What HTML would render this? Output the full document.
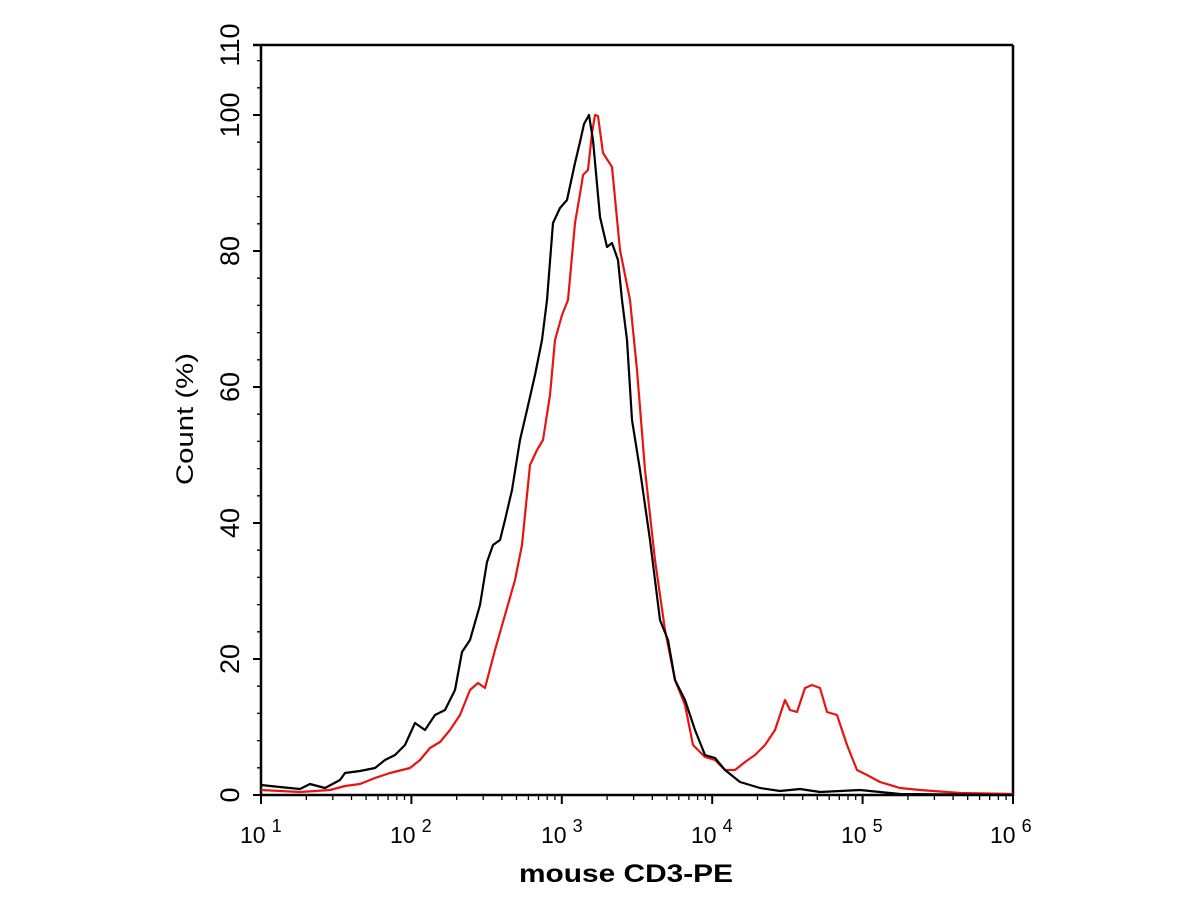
<!DOCTYPE html>
<html><head><meta charset="utf-8"><style>
html,body{margin:0;padding:0;background:#fff;}
svg{display:block;font-family:"Liberation Sans",Arial,sans-serif;}
</style></head><body>
<svg width="1200" height="900" viewBox="0 0 1200 900" xmlns="http://www.w3.org/2000/svg">
<rect width="1200" height="900" fill="#fff"/>
<g stroke="#000" stroke-width="2.5" fill="none">
<line x1="261" y1="45" x2="261" y2="796"/>
<line x1="253" y1="45" x2="1013" y2="45"/>
<line x1="1013" y1="45" x2="1013" y2="796"/>
<line x1="260" y1="795" x2="1014" y2="795"/>
</g>
<g stroke="#000" stroke-width="2">
<line x1="253" y1="795" x2="261" y2="795"/>
<line x1="253" y1="659" x2="261" y2="659"/>
<line x1="253" y1="523" x2="261" y2="523"/>
<line x1="253" y1="387" x2="261" y2="387"/>
<line x1="253" y1="251" x2="261" y2="251"/>
<line x1="253" y1="115" x2="261" y2="115"/>
<line x1="261" y1="795" x2="261" y2="804"/>
<line x1="411.4" y1="795" x2="411.4" y2="804"/>
<line x1="561.8" y1="795" x2="561.8" y2="804"/>
<line x1="712.2" y1="795" x2="712.2" y2="804"/>
<line x1="862.6" y1="795" x2="862.6" y2="804"/>
<line x1="1013" y1="795" x2="1013" y2="804"/>
</g>
<path stroke="#000" stroke-width="1.3" fill="none" d="M257 767.8H261M257 740.6H261M257 713.4H261M257 686.2H261M257 631.8H261M257 604.6H261M257 577.4H261M257 550.2H261M257 495.8H261M257 468.6H261M257 441.4H261M257 414.2H261M257 359.8H261M257 332.6H261M257 305.4H261M257 278.2H261M257 223.8H261M257 196.6H261M257 169.4H261M257 142.2H261M257 87.8H261M257 60.6H261"/>
<defs><path id="dec" stroke="#000" stroke-width="1.3" fill="none" d="M45.3 795V800M71.8 795V800M90.5 795V800M105.1 795V800M117 795V800M127.1 795V800M135.8 795V800M143.5 795V800"/></defs>
<use href="#dec" x="261"/><use href="#dec" x="411.4"/><use href="#dec" x="561.8"/><use href="#dec" x="712.2"/><use href="#dec" x="862.6"/>
<g fill="#000">
<g text-anchor="middle" font-size="27">
<text transform="translate(239,795) rotate(-90)">0</text>
<text transform="translate(239,659) rotate(-90)">20</text>
<text transform="translate(239,523) rotate(-90)">40</text>
<text transform="translate(239,387) rotate(-90)">60</text>
<text transform="translate(239,251) rotate(-90)">80</text>
<text transform="translate(239,115) rotate(-90)">100</text>
<text transform="translate(239,45) rotate(-90)">110</text>
</g>
<text transform="translate(193,419) rotate(-90)" text-anchor="middle" font-size="24" textLength="132" lengthAdjust="spacingAndGlyphs">Count  (%)</text>
<g font-size="23">
<text x="240" y="843">10<tspan font-size="18" dx="6" dy="-11">1</tspan></text>
<text x="390" y="843">10<tspan font-size="18" dx="6" dy="-11">2</tspan></text>
<text x="541" y="843">10<tspan font-size="18" dx="6" dy="-11">3</tspan></text>
<text x="691" y="843">10<tspan font-size="18" dx="6" dy="-11">4</tspan></text>
<text x="841" y="843">10<tspan font-size="18" dx="6" dy="-11">5</tspan></text>
<text x="990" y="843">10<tspan font-size="18" dx="6" dy="-11">6</tspan></text>
</g>
<text x="519" y="882" font-size="25" font-weight="bold" textLength="214" lengthAdjust="spacingAndGlyphs">mouse CD3-PE</text>
</g>
<polyline fill="none" stroke="#e8140f" stroke-width="2.2" stroke-linejoin="round" points="261,790 300,792 330,790 345,786 360,784 375,778 390,773 410,768 420,760 430,748 440,742 450,730 460,715 470,690 478,683 485,688 495,650 505,615 515,580 522,545 530,465 537,450 543,440 550,395 555,340 562,315 568,300 575,223 582,182 583,175 588,170 592,133 595,115 598,116 603,153 612,167 620,250 630,300 637,370 645,470 655,560 665,630 675,680 685,705 693,745 705,757 715,760 725,770 735,770 745,762 755,755 765,745 775,730 785,700 790,710 797,712 805,688 812,685 820,688 827,712 837,715 847,745 857,770 867,775 880,782 900,788 920,790 960,793 1013,794"/>
<polyline fill="none" stroke="#000" stroke-width="2.2" stroke-linejoin="round" points="261,785 280,787 300,789 310,784 325,788 340,780 345,773 360,771 375,768 385,760 395,755 405,745 415,723 425,730 435,715 445,710 455,690 462,652 470,640 480,605 487,562 493,545 500,540 505,520 512,490 520,440 527,410 535,375 542,340 547,300 553,223 560,208 567,200 575,163 580,142 584,124 589,115 593,140 600,217 607,247 612,243 618,260 622,300 627,340 632,420 640,470 650,540 660,620 668,640 675,680 685,700 695,730 705,755 715,758 725,770 740,782 760,788 780,791 800,789 820,792 860,790 900,794 1013,795"/>
</svg>
</body></html>
